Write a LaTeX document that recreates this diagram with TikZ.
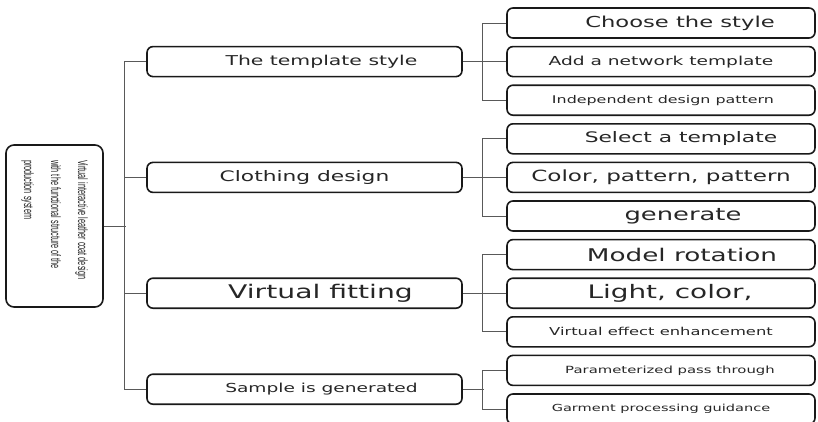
\documentclass[tikz,border=0pt]{standalone}
\usepackage{fontspec}
\usepackage{graphicx}
\setmainfont[FakeStretch=1.5]{DejaVu Sans}
\newfontfamily\narrowfont[FakeStretch=0.54]{Liberation Sans}
\usetikzlibrary{positioning}

\newcommand{\fs}[1]{\fontsize{#1}{#1}\selectfont}
\newcommand{\nudge}[2]{\hspace*{#1}#2}

\tikzset{
    mainbox/.style={draw=black!90, line width=1.6pt, rounded corners=6pt,
        minimum width=315pt, minimum height=30pt, inner sep=0pt, text=black!85},
    subbox/.style={draw=black!90, line width=1.6pt, rounded corners=6pt,
        minimum width=308pt, minimum height=30pt, inner sep=0pt, text=black!85},
    link/.style={draw=black!65, line width=0.9pt}
}

\begin{document}
\begin{tikzpicture}[x=1pt, y=-1pt, node distance=38.6pt, on grid]

    \useasboundingbox (0,0) rectangle (818,421);

    % Root (Left Side)
    \node[draw=black!90, line width=1.6pt, rounded corners=8pt,
        minimum width=97pt, minimum height=162pt, inner sep=0pt, text=black!85]
        (root) at (54.5,226) {\rotatebox{-90}{\parbox{132pt}{\narrowfont
            \fontsize{13.5}{27}\selectfont\raggedright
            Virtual interactive leather coat design\\
            with the functional structure of the\\
            production system}}};

    % Sub functions (Right Side)
    \node[subbox, font=\fs{15.1}] (s1) at (661,23) {\nudge{38pt}{Choose the style}};
    \node[subbox, font=\fs{12.4}, below=of s1] (s2) {Add a network template};
    \node[subbox, font=\fs{10.6}, below=of s2] (s3) {\nudge{4pt}{Independent design pattern}};
    \node[subbox, font=\fs{14.5}, below=of s3] (s4) {\nudge{40pt}{Select a template}};
    \node[subbox, font=\fs{15.4}, below=of s4] (s5) {Color, pattern, pattern};
    \node[subbox, font=\fs{17.2}, below=of s5] (s6) {\nudge{44pt}{generate}};
    \node[subbox, font=\fs{17.5}, below=of s6] (s7) {\nudge{42pt}{Model rotation}};
    \node[subbox, font=\fs{18.6}, below=of s7] (s8) {\nudge{18pt}{Light, color,}};
    \node[subbox, font=\fs{10.9}, below=of s8] (s9) {Virtual effect enhancement};
    \node[subbox, font=\fs{9.9}, below=of s9] (s10) {\nudge{18pt}{Parameterized pass through}};
    \node[subbox, font=\fs{9.7}, below=of s10] (s11) {Garment processing guidance};

    % Main functions (Middle)
    \node[mainbox, font=\fs{13.6}, left=356.5pt of s2] (style) {\nudge{34pt}{The template style}};
    \node[mainbox, font=\fs{14.5}, left=356.5pt of s5] (cloth) {Clothing design};
    \node[mainbox, font=\fs{18.8}, left=356.5pt of s8] (fit) {\nudge{32pt}{Virtual fitting}};
    \node[mainbox, font=\fs{12.4}, below=96pt of fit] (sample) {\nudge{34pt}{Sample is generated}};

    % Links
    \draw[link] (root.east) -- ++(22,0);
    \draw[link] (style.west) -- ++(-22,0) |- (sample.west);
    \draw[link] (cloth.west) -- ++(-22,0);
    \draw[link] (fit.west) -- ++(-22,0);

    \draw[link] (style.east) -- (s2.west);
    \draw[link] (s1.west) -- ++(-24,0) |- (s3.west);
    \draw[link] (cloth.east) -- (s5.west);
    \draw[link] (s4.west) -- ++(-24,0) |- (s6.west);
    \draw[link] (fit.east) -- (s8.west);
    \draw[link] (s7.west) -- ++(-24,0) |- (s9.west);
    \draw[link] (sample.east) -- ++(21,0);
    \draw[link] (s10.west) -- ++(-24,0) |- (s11.west);

\end{tikzpicture}
\end{document}
